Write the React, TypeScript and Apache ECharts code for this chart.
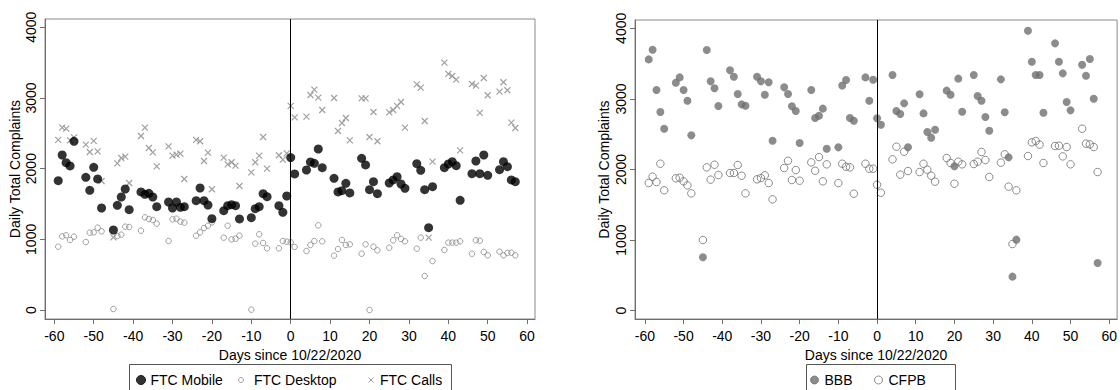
import React, { useEffect, useRef } from "react";
import * as echarts from "echarts";

// ---------- data ----------
const days = [
  -59, -58, -57, -56, -55, -52, -51, -50, -49, -48, -45, -44, -43, -42, -41,
  -38, -37, -36, -35, -34, -31, -30, -29, -28, -27, -24, -23, -22, -21, -20,
  -17, -16, -15, -14, -13, -10, -9, -8, -7, -6, -3, -2, -1, 0, 1,
  4, 5, 6, 7, 8, 11, 12, 13, 14, 15, 18, 19, 20, 21, 22,
  25, 26, 27, 28, 29, 32, 33, 34, 35, 36, 39, 40, 41, 42, 43,
  46, 47, 48, 49, 50, 53, 54, 55, 56, 57,
];

const ftcMobile = [
  1830, 2193, 2085, 2038, 2387, 1877, 1693, 2019, 1854, 1443, 1132, 1481, 1599, 1712, 1420,
  1670, 1637, 1651, 1599, 1462, 1528, 1443, 1528, 1453, 1462, 1547, 1726, 1547, 1486, 1292,
  1406, 1476, 1490, 1476, 1288, 1307, 1434, 1462, 1646, 1604, 1476, 1382, 1613, 2156, 1925,
  1981, 2094, 2075, 2278, 2014, 1863, 1670, 1689, 1792, 1656, 2146, 2052, 1703, 1816, 1646,
  1797, 1840, 1887, 1783, 1722, 2071, 1976, 1703, 1165, 1745, 2014, 2066, 2099, 2042, 1552,
  1929, 2108, 1929, 2193, 1906, 1986, 2099, 2028, 1840, 1816,
];

const ftcDesktop = [
  896, 1042, 1057, 991, 1038, 962, 1094, 1099, 1165, 1113, 14, 1047, 1066, 1179, 1174,
  1123, 1311, 1288, 1274, 1222, 976, 1283, 1292, 1250, 1236, 1052, 1099, 1160, 1193, 1240,
  1024, 1193, 1000, 1009, 1052, 5, 939, 1071, 948, 873, 873, 976, 967, 958, 892,
  835, 920, 976, 1198, 972, 769, 863, 991, 920, 929, 797, 929, 0, 896, 844,
  882, 986, 1057, 1005, 972, 868, 1024, 481, null, 693, 849, 953, 953, 953, 972,
  797, 986, 981, 821, 774, 825, 774, 807, 811, 774,
];

const ftcCalls = [
  2406, 2580, 2566, 2401, 2443, 2340, 2236, 2392, 2245, 1825, 1028, 2075, 2151, 2170, 1797,
  2462, 2580, 2292, 2231, 2033, 2316, 2184, 2198, 2212, 1854, 2406, 2387, 2108, 2226, 1708,
  2156, 2061, 2090, 2042, 1755, 1948, 2090, 2184, 2448, 2000, 2189, 2127, 2217, 2887, 2726,
  2736, 3042, 3118, 3005, 2830, 3000, 2533, 2646, 2717, 2401, 2995, 2995, 2448, 2802, 2387,
  2797, 2830, 2887, 2943, 2580, 3193, 3146, 2674, 1024, 2099, 3500, 3340, 3311, 3259, 2259,
  3198, 3175, 2788, 3283, 3038, 3090, 3222, 3109, 2651, 2575,
];

const bbb = [
  3560, 3697, 3126, 2814, 2578, 3230, 3305, 3126, 2975, 2484, 756, 3693, 3249, 3150, 2899,
  3405, 3315, 3069, 2923, 2904, 3315, 3249, 3060, 3235, 2408, 3164, 3069, 2895, 2829, 2375,
  3126, 2729, 2762, 2862, 2295, 2314, 3191, 3267, 2729, 2690, 3305, 2974, 3271, 2725, 2635,
  3338, 2829, 2786, 2937, 2314, 3065, 2795, 2531, 2451, 2564, 3117, 3060, 2045, 3287, 2819,
  3338, 3041, 2975, 2743, 2550, 3277, 2810, 2172, 482, 1006, 3966, 3527, 3338, 3338, 2805,
  3787, 3527, 3362, 2956, 2838, 3485, 3329, 3565, 3003, 676,
];

const cfpb = [
  1809, 1898, 1823, 2082, 1705, 1875, 1884, 1832, 1775, 1662, 1001, 2030, 1856, 2068, 1922,
  1950, 1950, 2063, 1912, 1662, 1861, 1879, 1917, 1808, 1577, 2021, 2124, 1851, 1992, 1841,
  2101, 1982, 2176, 1832, 2073, 1808, 2082, 2039, 2030, 1657, 2082, 2011, 2011, 1784, 1671,
  2144, 2323, 1927, 2252, 1978, 1964, 2082, 1997, 1912, 1827, 2163, 2092, 1799, 2111, 2073,
  2078, 2111, 2248, 2134, 1894, 2097, 2215, 1757, 944, 1705, 2191, 2385, 2403, 2352, 2092,
  2333, 2337, 2186, 2318, 2073, 2578, 2366, 2356, 2318, 1964,
];

const xTicks = [-60, -50, -40, -30, -20, -10, 0, 10, 20, 30, 40, 50, 60];
const yTicks = [0, 1000, 2000, 3000, 4000];
const xTitle = "Days since 10/22/2020";
const yTitle = "Daily Total Complaints";

// ---------- helpers ----------
const FONT = "'Liberation Sans', Arial, sans-serif";
const AXIS = "#6e6e6e";

function pairs(xs: number[], ys: (number | null)[]) {
  const out: number[][] = [];
  xs.forEach((d, i) => {
    const v = ys[i];
    if (v !== null && v !== undefined) out.push([d, v]);
  });
  return out;
}

const plain = (v: number) => String(v);

function xAxisCfg(gridIndex: number, min: number, max: number) {
  return {
    type: "value",
    gridIndex,
    min,
    max,
    name: xTitle,
    nameLocation: "middle",
    nameGap: 23,
    nameTextStyle: { fontFamily: FONT, fontSize: 14, color: "#000" },
    axisLine: { show: true, onZero: false, lineStyle: { color: AXIS, width: 1 } },
    axisTick: { show: true, length: 5, customValues: xTicks, lineStyle: { color: AXIS } },
    axisLabel: {
      customValues: xTicks,
      formatter: plain,
      fontFamily: FONT,
      fontSize: 14,
      color: "#000",
      margin: 10,
    },
    splitLine: { show: false },
  };
}

function yAxisCfg(gridIndex: number, min: number, max: number, nameGap: number) {
  return {
    type: "value",
    gridIndex,
    min,
    max,
    name: yTitle,
    nameLocation: "middle",
    nameGap,
    nameTextStyle: { fontFamily: FONT, fontSize: 14, color: "#000" },
    axisLine: { show: true, onZero: false, lineStyle: { color: AXIS, width: 1 } },
    axisTick: { show: true, length: 5, customValues: yTicks, lineStyle: { color: AXIS } },
    axisLabel: {
      customValues: yTicks,
      formatter: plain,
      rotate: 90,
      fontFamily: FONT,
      fontSize: 14,
      color: "#000",
      margin: 7,
    },
    splitLine: { show: false },
  };
}

const zeroLine = {
  silent: true,
  symbol: ["none", "none"],
  label: { show: false },
  lineStyle: { color: "#000", width: 1, type: "solid" },
  data: [{ xAxis: 0 }],
};

const CROSS = "path://M0,0L10,10M10,0L0,10";
const LIGHT = "#888888";
const MID = "#6f6f6f";

function legendCfg(left: number, name: string, w: number, h: number) {
  return {
    left,
    top: 373,
    padding: 0,
    itemGap: 0,
    itemWidth: w,
    itemHeight: h,
    symbolKeepAspect: true,
    selectedMode: false,
    data: [name],
    itemStyle: { borderWidth: 1 },
    textStyle: { fontFamily: FONT, fontSize: 14, color: "#000" },
  };
}

export default function App() {
  const ref = useRef<HTMLDivElement>(null);

  useEffect(() => {
    if (!ref.current) return;
    const chart = echarts.init(ref.current, undefined, { renderer: "svg" });
    const option: any = {
      animation: false,
      backgroundColor: "#fff",
      grid: [
        { left: 45, top: 19, width: 490, height: 300, show: true, borderColor: "#8a8a8a", borderWidth: 1 },
        { left: 635, top: 20, width: 488, height: 299, show: true, borderColor: "#8a8a8a", borderWidth: 1 },
      ],
      xAxis: [xAxisCfg(0, -62.36, 62.0), xAxisCfg(1, -62.55, 62.04)],
      yAxis: [yAxisCfg(0, -127, 4117, 23), yAxisCfg(1, -118, 4118, 24)],
      legend: [
        legendCfg(136, "FTC Mobile", 9, 9),
        legendCfg(238, "FTC Desktop", 16, 5),
        legendCfg(368, "FTC Calls", 8, 5),
        legendCfg(810, "BBB", 10, 8),
        legendCfg(874, "CFPB", 10, 8),
      ],
      graphic: [
        {
          type: "rect",
          silent: true,
          shape: { x: 129.5, y: 364.5, width: 322, height: 40 },
          style: { fill: "none", stroke: "#555", lineWidth: 1 },
        },
        {
          type: "rect",
          silent: true,
          shape: { x: 806.5, y: 364.5, width: 149, height: 40 },
          style: { fill: "none", stroke: "#555", lineWidth: 1 },
        },
      ],
      series: [
        {
          name: "FTC Calls",
          type: "scatter",
          xAxisIndex: 0,
          yAxisIndex: 0,
          symbol: CROSS,
          symbolSize: 6,
          itemStyle: { color: "transparent", borderColor: LIGHT, borderWidth: 1.2 },
          data: pairs(days, ftcCalls),
          z: 2,
        },
        {
          name: "FTC Desktop",
          type: "scatter",
          xAxisIndex: 0,
          yAxisIndex: 0,
          symbol: "circle",
          symbolSize: 5.5,
          itemStyle: { color: "transparent", borderColor: LIGHT, borderWidth: 1 },
          data: pairs(days, ftcDesktop),
          z: 3,
        },
        {
          name: "FTC Mobile",
          type: "scatter",
          xAxisIndex: 0,
          yAxisIndex: 0,
          symbol: "circle",
          symbolSize: 9,
          itemStyle: { color: "#000", borderColor: "#000", borderWidth: 0 },
          data: pairs(days, ftcMobile),
          markLine: zeroLine,
          z: 4,
        },
        {
          name: "CFPB",
          type: "scatter",
          xAxisIndex: 1,
          yAxisIndex: 1,
          symbol: "circle",
          symbolSize: 7.5,
          itemStyle: { color: "transparent", borderColor: MID, borderWidth: 1 },
          data: pairs(days, cfpb),
          z: 3,
        },
        {
          name: "BBB",
          type: "scatter",
          xAxisIndex: 1,
          yAxisIndex: 1,
          symbol: "circle",
          symbolSize: 8,
          itemStyle: { color: MID, borderColor: MID, borderWidth: 0 },
          data: pairs(days, bbb),
          markLine: zeroLine,
          z: 4,
        },
      ],
    };
    chart.setOption(option);
    return () => chart.dispose();
  }, []);

  return (
    <div
      ref={ref}
      style={{ position: "fixed", left: 0, top: 0, width: 1120, height: 390, background: "#fff" }}
    />
  );
}
